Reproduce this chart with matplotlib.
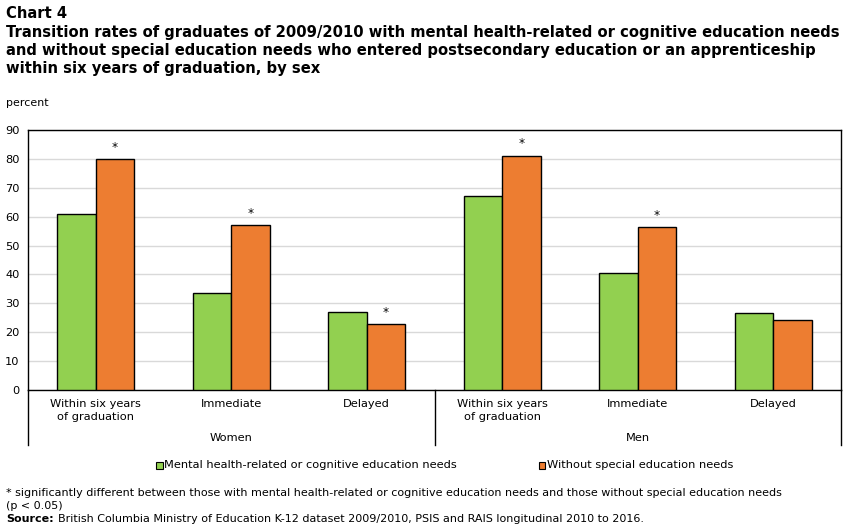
import numpy as np
import matplotlib
matplotlib.use("Agg")
import matplotlib.pyplot as plt
from matplotlib.patches import Rectangle

# data
categories = ["Within six years\nof graduation", "Immediate", "Delayed",
              "Within six years\nof graduation", "Immediate", "Delayed"]
groups = ["Women", "Men"]
mental_health = [60.8, 33.5, 27.1, 67.0, 40.4, 26.5]
no_special = [79.8, 57.0, 22.7, 81.0, 56.3, 24.1]
significant = [True, True, True, True, True, False]
series_names = ["Mental health-related or cognitive education needs",
                "Without special education needs"]

GREEN = "#92d050"
ORANGE = "#ed7d31"

plt.rcParams["font.family"] = ["DejaVu Sans"]
BODY = 8.2

W, H = 851, 531
fig = plt.figure(figsize=(W / 100, H / 100), dpi=100)
renderer = fig.canvas.get_renderer()


def fx(px):
    return px / W


def fy(py):
    return 1 - py / H


def fit_width(t, target_px):
    # scale a text's font size so it spans target_px
    w = t.get_window_extent(renderer=renderer).width
    t.set_fontsize(t.get_fontsize() * target_px / w)
    return t.get_fontsize()


left, right, top, bottom = 28, 841, 130, 390
ax = fig.add_axes([fx(left), fy(bottom), fx(right - left), (bottom - top) / H])

x = np.arange(len(categories))
bw = 0.284
ax.bar(x - bw / 2, mental_health, bw, color=GREEN, edgecolor="black", linewidth=1, zorder=3)
ax.bar(x + bw / 2, no_special, bw, color=ORANGE, edgecolor="black", linewidth=1, zorder=3)

for i, sig in enumerate(significant):
    if sig:
        ax.text(x[i] + bw / 2, no_special[i] + 4.2, "*", ha="center", va="center", fontsize=BODY + 0.5)

ax.set_xlim(-0.5, len(categories) - 0.5)
ax.set_ylim(0, 90)
ax.set_yticks(np.arange(0, 91, 10))
ax.tick_params(axis="y", length=0, labelsize=BODY, pad=6)
ax.set_xticks([])
ax.yaxis.grid(True, color="#d9d9d9", linewidth=1, zorder=0)
ax.set_axisbelow(True)
for s in ax.spines.values():
    s.set_color("black")
    s.set_linewidth(1)

# category and group labels below the axis
trans = ax.get_xaxis_transform()
span = bottom - top
for xv in [-0.5, 2.5, 5.5]:
    ax.plot([xv, xv], [0, -(445 - bottom) / span], color="black", linewidth=1,
            transform=trans, clip_on=False)
for i, c in enumerate(categories):
    ax.text(x[i], -(399 - bottom) / span, c, transform=trans, ha="center", va="top",
            fontsize=BODY, linespacing=1.35)
for g, xc in zip(groups, [1, 4]):
    ax.text(xc, -(438 - bottom) / span, g, transform=trans, ha="center", va="center", fontsize=BODY)

# legend
for px, col, name in [(156, GREEN, series_names[0]), (538.5, ORANGE, series_names[1])]:
    fig.patches.append(Rectangle((fx(px), fy(468.5)), fx(6.5), 6.5 / H, facecolor=col,
                                 edgecolor="black", linewidth=0.8, transform=fig.transFigure))
    fig.text(fx(px + 8.5), fy(465), name, ha="left", va="center", fontsize=BODY)

# titles
title = ["Transition rates of graduates of 2009/2010 with mental health-related or cognitive education needs",
         "and without special education needs who entered postsecondary education or an apprenticeship",
         "within six years of graduation, by sex"]
t0 = fig.text(fx(6), fy(32), title[0], fontsize=11, fontweight="bold", va="center")
tsize = fit_width(t0, 827)
for k, line in enumerate(title[1:], start=1):
    fig.text(fx(6), fy(32 + 18 * k), line, fontsize=tsize, fontweight="bold", va="center")
fig.text(fx(6), fy(14), "Chart 4", fontsize=tsize, fontweight="bold", va="center")
fig.text(fx(6), fy(103), "percent", fontsize=BODY * 0.97, va="center")

# notes
n0 = fig.text(fx(6), fy(493), "* significantly different between those with mental health-related or cognitive education needs and those without special education needs",
              fontsize=8, va="center")
nsize = fit_width(n0, 781)
fig.text(fx(6), fy(506), "(p < 0.05)", fontsize=nsize, va="center")
s0 = fig.text(fx(6), fy(519), "Source:", fontsize=nsize, fontweight="bold", va="center")
sw = s0.get_window_extent(renderer=renderer).width
fig.text(fx(6 + sw + 4), fy(519),
         "British Columbia Ministry of Education K-12 dataset 2009/2010, PSIS and RAIS longitudinal 2010 to 2016.",
         fontsize=nsize, va="center")

fig.savefig("out.png", dpi=100)
